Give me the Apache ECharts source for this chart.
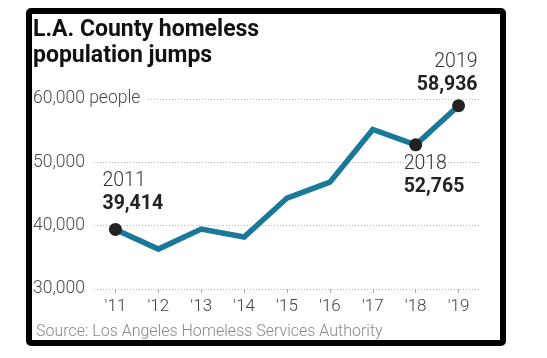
<!DOCTYPE html>
<html>
<head>
<meta charset="utf-8">
<script src="https://cdn.jsdelivr.net/npm/echarts@6/dist/echarts.min.js"></script>
<style>
html,body{margin:0;padding:0;background:#fff;}
#c{width:547px;height:358px;}
</style>
</head>
<body>
<div id="c"></div>
<script>
var years = ["'11","'12","'13","'14","'15","'16","'17","'18","'19"];
var counts = [39414, 36300, 39461, 38200, 44359, 46874, 55188, 52765, 58936];
var yTicks = [30000, 40000, 50000, 60000];
var titleLines = ["L.A. County homeless", "population jumps"];
var sourceText = "Source: Los Angeles Homeless Services Authority";
var highlights = {0: "2011", 7: "2018", 8: "2019"};

var FONT = "Roboto, 'Liberation Sans', sans-serif";
var LINE = '#1a7898';

function fmt(n){ return n.toString().replace(/\B(?=(\d{3})+(?!\d))/g, ','); }

var labelCfg = {
  0: {position: 'top', align: 'left', offset: [-13, -2]},
  7: {position: 'bottom', align: 'left', offset: [-12, -4]},
  8: {position: 'top', align: 'right', offset: [19, 2]}
};

var seriesData = counts.map(function(v, i){
  if (highlights[i] === undefined) return v;
  var c = labelCfg[i];
  return {
    value: v,
    symbol: 'circle',
    symbolSize: 13,
    itemStyle: {color: '#222'},
    label: {
      show: true,
      position: c.position,
      align: c.align,
      offset: c.offset,
      formatter: '{a|' + highlights[i] + '}\n{b|' + fmt(v) + '}',
      rich: {
        a: {fontFamily: FONT, fontSize: 19.5, fontWeight: 300, color: '#333', lineHeight: 23, align: c.align},
        b: {fontFamily: FONT, fontSize: 19.5, fontWeight: 'bold', color: '#222', lineHeight: 23, align: c.align}
      }
    }
  };
});

var chart = echarts.init(document.getElementById('c'), null, {renderer: 'canvas'});
chart.setOption({
  backgroundColor: '#fff',
  animation: false,
  grid: {left: 94, right: 67, top: 99, bottom: 69},
  xAxis: {
    type: 'category',
    data: years,
    boundaryGap: true,
    axisLine: {show: false},
    axisTick: {show: true, alignWithLabel: true, length: 4, inside: false, lineStyle: {color: '#aaa'}},
    axisLabel: {fontFamily: FONT, fontSize: 17, fontWeight: 300, color: '#444', margin: 9}
  },
  yAxis: {
    type: 'value',
    min: yTicks[0],
    max: yTicks[yTicks.length - 1],
    interval: 10000,
    axisLine: {show: false},
    axisTick: {show: false},
    splitLine: {lineStyle: {color: '#bbb', type: [1, 2], width: 1}},
    axisLabel: {
      fontFamily: FONT, fontSize: 17.5, fontWeight: 300, color: '#4a4a4a',
      align: 'left', margin: 61,
      formatter: function(v){ return v === yTicks[yTicks.length-1] ? fmt(v) + ' people' : fmt(v); },
      backgroundColor: '#fff', padding: [0, 6, 0, 0]
    }
  },
  series: [{
    type: 'line',
    data: seriesData,
    symbol: 'none',
    lineStyle: {color: LINE, width: 5.5, join: 'miter'},
    itemStyle: {color: '#222'},
    z: 3
  }],
  graphic: [
    {type: 'rect', shape: {x: 29, y: 11, width: 474, height: 332, r: 2}, style: {fill: 'none', stroke: '#000', lineWidth: 6}, z: 10},
    {type: 'text', left: 33, top: 17, style: {text: titleLines.join('\n'), fontFamily: FONT, fontSize: 23, fontWeight: 'bold', fill: '#111', lineHeight: 26}},
    {type: 'text', left: 36, top: 324, style: {text: sourceText, fontFamily: FONT, fontSize: 16, fontWeight: 300, fill: '#888'}}
  ]
});
</script>
</body>
</html>
